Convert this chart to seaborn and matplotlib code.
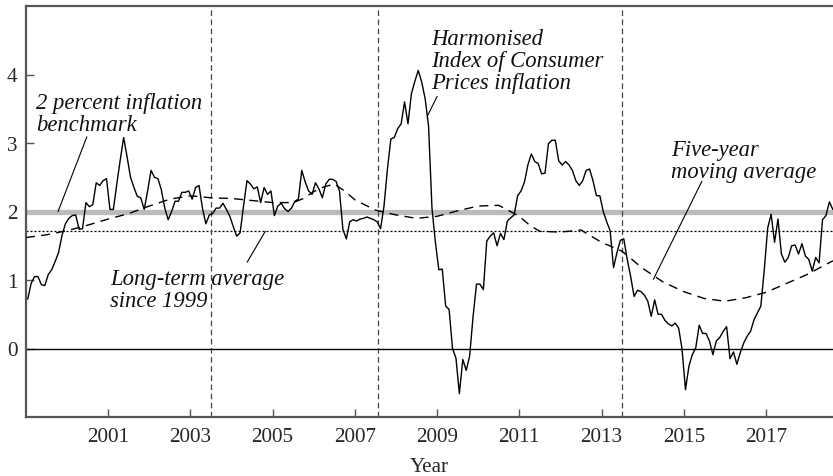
import numpy as np
import pandas as pd
import matplotlib
matplotlib.use("Agg")
import matplotlib.pyplot as plt
import seaborn as sns

# ---------------- data ----------------
start_year = 1999
hicp = [
    # 1999
    0.72, 0.95, 1.05, 1.05, 0.93, 0.92, 1.08, 1.15, 1.27, 1.40, 1.65, 1.82,
    # 2000
    1.90, 1.94, 1.95, 1.74, 1.75, 2.13, 2.07, 2.10, 2.42, 2.38, 2.45, 2.48,
    # 2001
    2.03, 2.03, 2.40, 2.75, 3.08, 2.80, 2.50, 2.35, 2.22, 2.20, 2.03, 2.30,
    # 2002
    2.60, 2.50, 2.48, 2.32, 2.05, 1.88, 2.00, 2.15, 2.15, 2.28, 2.28, 2.30,
    # 2003
    2.18, 2.35, 2.38, 2.05, 1.82, 1.95, 1.97, 2.05, 2.05, 2.12, 2.03, 1.93,
    # 2004
    1.78, 1.64, 1.69, 2.08, 2.45, 2.40, 2.33, 2.36, 2.13, 2.35, 2.25, 2.30,
    # 2005
    1.94, 2.08, 2.12, 2.04, 2.00, 2.05, 2.15, 2.18, 2.60, 2.43, 2.30, 2.25,
    # 2006
    2.42, 2.33, 2.20, 2.40, 2.47, 2.47, 2.44, 2.30, 1.74, 1.60, 1.85, 1.88,
    # 2007
    1.86, 1.89, 1.90, 1.92, 1.90, 1.88, 1.85, 1.75, 2.08, 2.62, 3.06, 3.08,
    # 2008
    3.21, 3.28, 3.60, 3.28, 3.72, 3.90, 4.06, 3.89, 3.65, 3.25, 2.05, 1.55,
    # 2009
    1.15, 1.16, 0.62, 0.57, 0.00, -0.14, -0.66, -0.16, -0.32, -0.11, 0.47, 0.94,
    # 2010
    0.94, 0.86, 1.57, 1.64, 1.69, 1.50, 1.68, 1.59, 1.86, 1.91, 1.95, 2.23,
    # 2011
    2.30, 2.43, 2.68, 2.84, 2.73, 2.70, 2.55, 2.56, 2.99, 3.04, 3.04, 2.74,
    # 2012
    2.68, 2.73, 2.68, 2.60, 2.45, 2.38, 2.45, 2.60, 2.62, 2.45, 2.23, 2.23,
    # 2013
    2.00, 1.85, 1.72, 1.18, 1.40, 1.58, 1.60, 1.30, 1.05, 0.76, 0.85, 0.83,
    # 2014
    0.78, 0.69, 0.47, 0.71, 0.50, 0.50, 0.41, 0.36, 0.33, 0.37, 0.30, -0.01,
    # 2015
    -0.60, -0.26, -0.09, 0.01, 0.34, 0.22, 0.22, 0.11, -0.09, 0.11, 0.16, 0.25,
    # 2016
    0.32, -0.15, -0.05, -0.23, -0.06, 0.08, 0.18, 0.25, 0.42, 0.52, 0.62, 1.15,
    # 2017
    1.76, 1.96, 1.55, 1.89, 1.38, 1.26, 1.33, 1.50, 1.51, 1.38, 1.53, 1.35,
    # 2018
    1.30, 1.13, 1.33, 1.25, 1.88, 1.94, 2.14, 2.03,
]

ma_time = [1999.0, 1999.5, 2000.0, 2000.5, 2001.0, 2001.5, 2002.0, 2002.5,
           2003.0, 2003.5, 2004.0, 2004.5, 2005.0, 2005.5, 2005.75, 2006.0,
           2006.25, 2006.5, 2006.75, 2007.0, 2007.5, 2008.0, 2008.5, 2009.0,
           2009.5, 2010.0, 2010.5, 2011.0, 2011.25, 2011.5, 2012.0, 2012.5,
           2013.0, 2013.5, 2014.0, 2014.5, 2015.0, 2015.5, 2016.0, 2016.5,
           2017.0, 2017.5, 2018.0, 2018.5, 2018.63]
ma_value = [1.62, 1.66, 1.72, 1.80, 1.89, 1.97, 2.08, 2.18,
            2.23, 2.20, 2.19, 2.16, 2.13, 2.13, 2.19, 2.29,
            2.36, 2.40, 2.30, 2.17, 2.02, 1.95, 1.90, 1.93,
            2.01, 2.08, 2.09, 1.93, 1.80, 1.71, 1.70, 1.73,
            1.55, 1.42, 1.17, 0.97, 0.83, 0.73, 0.69, 0.74,
            0.82, 0.95, 1.08, 1.24, 1.28]

benchmark = 2.0
long_term_avg = 1.71
event_lines = [2003.49, 2007.57, 2013.49]
x_ticks = [2001, 2003, 2005, 2007, 2009, 2011, 2013, 2015, 2017]
y_ticks = [0, 1, 2, 3, 4]

months = np.arange(len(hicp))
df_hicp = pd.DataFrame({"t": start_year + (months + 0.5) / 12.0, "v": hicp})
df_ma = pd.DataFrame({"t": ma_time, "v": ma_value})

# ---------------- style ----------------
sns.set_style("ticks")
plt.rcParams["font.family"] = ["Liberation Serif", "DejaVu Serif"]
FS = 15.2
AFS = 16.3

fig = plt.figure(figsize=(8.33, 4.77), dpi=100)
ax = fig.add_axes([26 / 833, 1 - 418 / 477, 1 - 26 / 833, (418 - 7) / 477])

spine_col = "#555555"
# reference lines
ax.axhline(benchmark, color="#bbbbbb", lw=3.8, zorder=1)
ax.axhline(long_term_avg, color="black", lw=0.9, dashes=(1.6, 1.6), zorder=2)
ax.axhline(0, color="black", lw=1.0, zorder=2)
for xv in event_lines:
    ax.axvline(xv, color="#444444", lw=0.9, dashes=(4.5, 2.8), zorder=2)

sns.lineplot(data=df_ma, x="t", y="v", ax=ax, color="black", lw=1.0,
             dashes=False, zorder=3).lines[-1].set_dashes((6.5, 4.5))
sns.lineplot(data=df_hicp, x="t", y="v", ax=ax, color="black", lw=1.0, zorder=4)

ax.set_xlim(1999.0, 2018.63)
ax.set_ylim(-1.0, 5.0)
ax.set_xticks(x_ticks)
ax.set_yticks(y_ticks)
ax.set_xticklabels([str(v) for v in x_ticks], fontsize=FS)
ax.set_yticklabels([str(v) for v in y_ticks], fontsize=FS)
ax.tick_params(axis="both", direction="in", length=6, width=1.0, color=spine_col)
ax.tick_params(axis="x", pad=7)
ax.tick_params(axis="y", pad=6)
ax.set_xlabel("Year", fontsize=FS, labelpad=8)
ax.set_ylabel("")

for side in ["left", "bottom", "top"]:
    ax.spines[side].set_color(spine_col)
    ax.spines[side].set_linewidth(1.6)
ax.spines["right"].set_visible(False)

# annotations
txt = dict(fontsize=AFS, style="italic", ha="left", va="top", color="#111111",
           linespacing=1.05)
ax.text(1999.25, 3.74, "2 percent inflation\nbenchmark", **txt)
ax.text(2001.05, 1.17, "Long-term average\nsince 1999", **txt)
ax.text(2008.85, 4.68, "Harmonised\nIndex of Consumer\nPrices inflation", **txt)
ax.text(2014.69, 3.06, "Five-year\nmoving average", **txt)

lead = dict(color="black", lw=0.8)
ax.plot([2000.48, 1999.78], [3.09, 2.0], **lead)
ax.plot([2004.38, 2004.82], [1.26, 1.71], **lead)
ax.plot([2009.00, 2008.76], [3.68, 3.39], **lead)
ax.plot([2015.44, 2014.26], [2.44, 1.01], **lead)

fig.savefig("out.png", dpi=100)
